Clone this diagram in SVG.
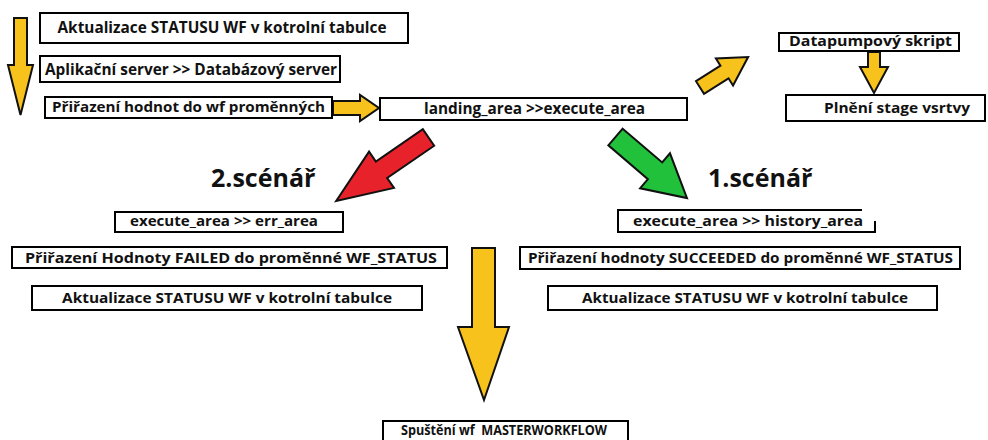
<svg xmlns="http://www.w3.org/2000/svg" width="988" height="440" viewBox="0 0 988 440">
<style>
.box{fill:#fff;stroke:#000;stroke-width:2}
.t{font-family:"Open Sans","Liberation Sans",sans-serif;font-weight:bold;fill:#111;text-anchor:middle}
.big{font-family:"Open Sans","Liberation Sans",sans-serif;font-weight:bold;fill:#111;font-size:25px}
.y{fill:#F7C21B;stroke:#111;stroke-width:2;stroke-linejoin:miter}
.r{fill:#E8222B;stroke:#111;stroke-width:2}
.g{fill:#22C13B;stroke:#111;stroke-width:2}
</style>
<rect width="988" height="440" fill="#fff"/>
<g id="connectors">
<polygon class="y" points="14,18 27,18 27,65 33,65 20.5,115 8,65 14,65"/>
<polygon class="y" points="333,101 360,101 360,95 379,108 360,121 360,115 333,115"/>
<polygon class="y" transform="translate(700,87.5) rotate(-32.4)" points="0,-7.5 29,-7.5 29,-16 57,0 29,16 29,7.5 0,7.5"/>
<polygon class="y" points="868,52 880,52 880,67 888,67 874,93 860,67 868,67"/>
<polygon class="r" transform="translate(428.5,137.5) rotate(145.5)" points="0,-10 57,-10 57,-22 112,0 57,22 57,10 0,10"/>
<polygon class="g" transform="translate(615.5,137) rotate(40.5)" points="0,-11 52,-11 52,-23 94,0 52,23 52,11 0,11"/>
<polygon class="y" points="472,248 495,248 495,327 509,327 484,400 458,327 472,327"/>
</g>
<g id="n-aktualizace-top"><rect class="box" x="40" y="13" width="368" height="30"/><text class="t" x="222" y="33" font-size="15.5" textLength="329" lengthAdjust="spacingAndGlyphs">Aktualizace STATUSU WF v kotrolní tabulce</text></g>
<g id="n-aplikacni"><rect class="box" x="40" y="56" width="300" height="26"/><text class="t" x="191" y="75" font-size="16.5" textLength="292" lengthAdjust="spacingAndGlyphs">Aplikační server &gt;&gt; Databázový server</text></g>
<g id="n-prirazeni"><rect class="box" x="45" y="97" width="287" height="21"/><text class="t" x="188.5" y="112" font-size="15" textLength="273" lengthAdjust="spacingAndGlyphs">Přiřazení hodnot do wf proměnných</text></g>
<g id="n-landing"><rect class="box" x="380" y="98" width="307" height="22"/><text class="t" x="534.5" y="114" font-size="15.5" textLength="221" lengthAdjust="spacingAndGlyphs">landing_area &gt;&gt;execute_area</text></g>
<g id="n-datapump"><rect class="box" x="779" y="33" width="180" height="18"/><text class="t" x="870.5" y="46" font-size="14.5" textLength="163" lengthAdjust="spacingAndGlyphs">Datapumpový skript</text></g>
<g id="n-plneni"><rect class="box" x="786" y="95" width="199" height="26"/><text class="t" x="897" y="113" font-size="15" textLength="146" lengthAdjust="spacingAndGlyphs">Plnění stage vsrtvy</text></g>
<g id="l-scenar2"><text class="big" x="211" y="187">2.scénář</text></g>
<g id="l-scenar1"><text class="big" x="708" y="187">1.scénář</text></g>
<g id="n-err"><rect class="box" x="115" y="212" width="228" height="20"/><text class="t" x="224" y="226" font-size="14.5" textLength="188" lengthAdjust="spacingAndGlyphs">execute_area &gt;&gt; err_area</text></g>
<g id="n-failed"><rect class="box" x="12" y="247" width="435" height="21"/><text class="t" x="231" y="263" font-size="15" textLength="412" lengthAdjust="spacingAndGlyphs">Přiřazení Hodnoty FAILED do proměnné WF_STATUS</text></g>
<g id="n-aktualizace-left"><rect class="box" x="32" y="286" width="390" height="24"/><text class="t" x="227" y="303" font-size="15" textLength="330" lengthAdjust="spacingAndGlyphs">Aktualizace STATUSU WF v kotrolní tabulce</text></g>
<g id="n-history"><path d="M862,210 H618 V232 H875 V221" fill="#fff" stroke="#000" stroke-width="2"/><text class="t" x="748" y="226" font-size="15" textLength="230" lengthAdjust="spacingAndGlyphs">execute_area &gt;&gt; history_area</text></g>
<g id="n-succeeded"><rect class="box" x="520" y="247" width="440" height="22"/><text class="t" x="740.5" y="263" font-size="15" textLength="425" lengthAdjust="spacingAndGlyphs">Přiřazení hodnoty SUCCEEDED do proměnné WF_STATUS</text></g>
<g id="n-aktualizace-right"><rect class="box" x="548" y="286" width="389" height="24"/><text class="t" x="745" y="303" font-size="15" textLength="326" lengthAdjust="spacingAndGlyphs">Aktualizace STATUSU WF v kotrolní tabulce</text></g>
<g id="n-master"><rect class="box" x="383" y="421" width="245" height="30"/><text class="t" x="504" y="435" font-size="14.5" textLength="206" lengthAdjust="spacingAndGlyphs" xml:space="preserve">Spuštění wf  MASTERWORKFLOW</text></g>
</svg>
